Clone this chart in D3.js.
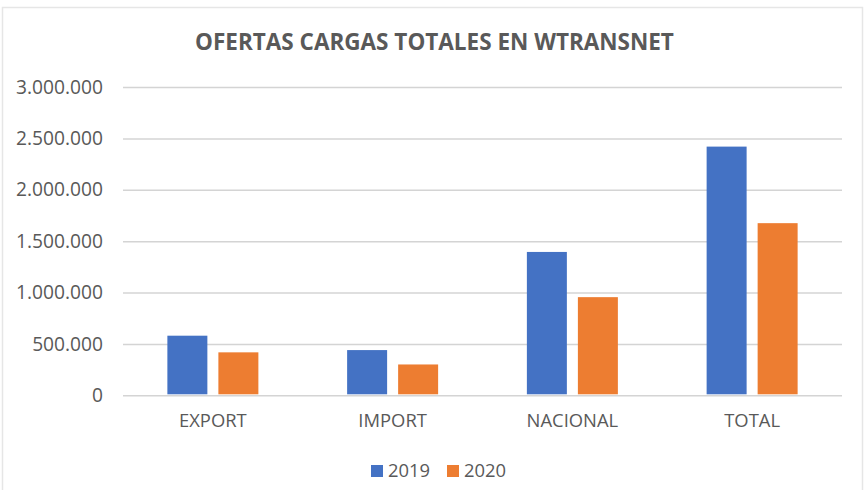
<!DOCTYPE html>
<html>
<head>
<meta charset="utf-8">
<script src="https://cdn.jsdelivr.net/npm/d3@7"></script>
<style>
body { margin: 0; background: #fff; }
text { font-family: "Open Sans", sans-serif; fill: #595959; }
</style>
</head>
<body>
<svg id="chart" width="868" height="490"></svg>
<script>
const categories = ["EXPORT", "IMPORT", "NACIONAL", "TOTAL"];
const years = ["2019", "2020"];
const values2019 = [580000, 440000, 1395000, 2420000];
const values2020 = [418000, 300000, 955000, 1675000];
const yTicks = [0, 500000, 1000000, 1500000, 2000000, 2500000, 3000000];
const colors = ["#4472c4", "#ed7d31"];

const svg = d3.select("#chart");

// thousands separator is a dot in the original
const fmt = d3.formatLocale({ decimal: ",", thousands: ".", grouping: [3], currency: ["", ""] }).format(",d");

const x = d3.scaleBand().domain(categories).range([123, 842]);
const xInner = d3.scaleBand().domain(years).range([0, x.bandwidth()])
    .paddingInner(0.216).paddingOuter(0.87);
const y = d3.scaleLinear().domain([0, 3000000]).range([395.3, 87]);

// chart frame
svg.append("path")
    .attr("d", "M2.5,490V7.5H862.5V490")
    .attr("fill", "none")
    .attr("stroke", "#e6e6e6")
    .attr("stroke-width", 1.5);

svg.append("text")
    .attr("x", 434.5)
    .attr("y", 49.5)
    .attr("text-anchor", "middle")
    .attr("font-size", 22.5)
    .attr("font-weight", 700)
    .text("OFERTAS CARGAS TOTALES EN WTRANSNET");

const yAxis = svg.append("g")
    .attr("transform", "translate(123,0)")
    .call(d3.axisLeft(y).tickValues(yTicks).tickFormat(fmt).tickSize(-719).tickPadding(20));
yAxis.select(".domain").remove();
yAxis.selectAll("line").attr("stroke", "#d4d4d4").attr("stroke-width", 1.5);
yAxis.selectAll("text").attr("font-size", 19.2).attr("font-family", null);

const xAxis = svg.append("g")
    .attr("transform", "translate(0,395.3)")
    .call(d3.axisBottom(x).tickSize(0).tickPadding(19));
xAxis.select(".domain").remove();
xAxis.selectAll("text").attr("font-size", 18.4).attr("font-family", null);

// bars
[values2019, values2020].forEach((vals, i) => {
    svg.append("g")
        .attr("fill", colors[i])
        .selectAll("rect")
        .data(vals)
        .join("rect")
        .attr("x", (d, j) => x(categories[j]) + xInner(years[i]))
        .attr("y", d => y(d))
        .attr("width", xInner.bandwidth())
        .attr("height", d => y(0) - y(d) - 1);
});

// legend
const legendX = d3.scaleOrdinal().domain(years).range([371, 447]);
const legend = svg.append("g")
    .selectAll("g")
    .data(years)
    .join("g")
    .attr("transform", d => `translate(${legendX(d)},465)`);
legend.append("rect")
    .attr("width", 12)
    .attr("height", 12)
    .attr("fill", (d, i) => colors[i]);
legend.append("text")
    .attr("x", 17)
    .attr("y", 12)
    .attr("font-size", 18.4)
    .text(d => d);
</script>
</body>
</html>
